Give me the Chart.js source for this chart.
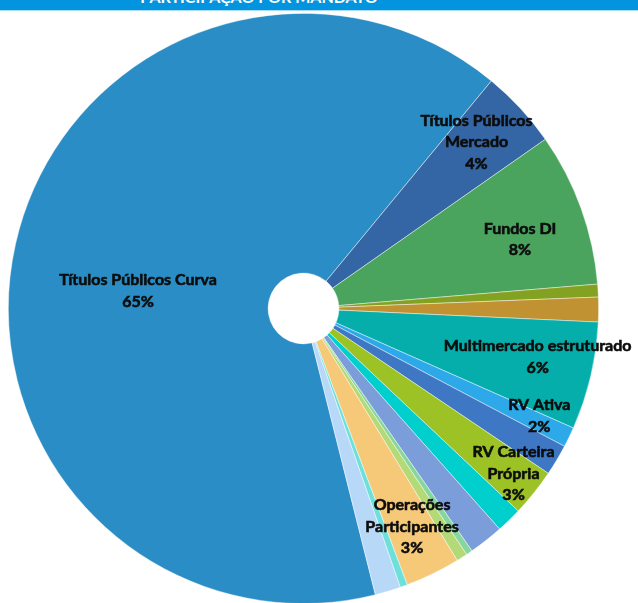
<!DOCTYPE html>
<html>
<head>
<meta charset="utf-8">
<script src="https://cdn.jsdelivr.net/npm/chart.js@4.4.0/dist/chart.umd.min.js"></script>
<style>
    html, body { margin: 0; padding: 0; background: #fff; overflow: hidden; width: 638px; height: 603px; }
    #faixa { position: absolute; left: 0; top: 0; width: 638px; height: 10px; background: #0394df; border-bottom: 1px solid #a9dcf6; overflow: hidden; z-index: 2; }
    #titulo { position: absolute; left: 0; width: 518px; top: -11px; text-align: center; color: #fff; font: bold 16px Lato, sans-serif; line-height: 16px; }
    #box { position: absolute; left: 0; top: 0; width: 638px; height: 616px; }
</style>
</head>
<body>
<div id="faixa"><div id="titulo">PARTICIPAÇÃO POR MANDATO</div></div>
<div id="box"><canvas id="chartMandato"></canvas></div>
<script>
// categorias (as sem rótulo no gráfico ficam sem nome)
var categorias = [
    ['Títulos Públicos Curva'],
    ['Títulos Públicos', 'Mercado'],
    ['Fundos DI'],
    [],
    [],
    ['Multimercado estruturado'],
    [],
    ['RV Ativa'],
    ['RV Carteira', 'Própria'],
    [],
    [],
    [],
    [],
    ['Operações', 'Participantes'],
    [],
    []
]
var participacao = [64.9, 4.3, 8.4, 0.7, 1.35, 5.9, 1.1, 1.7, 2.6, 1.4, 1.9, 0.35, 0.6, 3.0, 0.4, 1.4]
var cores = ['#2a8dc5', '#3465a4', '#4aa45e', '#84a222', '#c09232', '#05aeaa', '#2da9e9', '#3e78c5',
    '#9cc225', '#00cfcd', '#7b9dda', '#86d69e', '#b4d977', '#f6c978', '#6de0dc', '#b7d8f7']

// posição dos rótulos: fração do raio e desvio de ângulo (graus)
var posRotulos = [
    { f: 0.564, da: -6.6 }, { f: 0.814, da: -1.2 }, { f: 0.77, da: 2.2 }, null, null,
    { f: 0.81, da: -1.6 }, null, { f: 0.878, da: -6.4 }, { f: 0.905, da: -0.5 },
    null, null, null, null, { f: 0.825, da: -0.5 }, null, null
]

const rotulosPlugin = {
    id: 'rotulos',
    afterDatasetsDraw(chart) {
        const ctx = chart.ctx
        const meta = chart.getDatasetMeta(0)
        const total = participacao.reduce((a, b) => a + b, 0)
        ctx.save()
        ctx.font = 'bold 16px Lato, sans-serif'
        ctx.fillStyle = '#0d0d0d'
        ctx.strokeStyle = '#0d0d0d'
        ctx.lineWidth = 0.6
        ctx.textAlign = 'center'
        ctx.textBaseline = 'middle'
        meta.data.forEach((arc, i) => {
            if (!posRotulos[i] || categorias[i].length == 0) return
            const p = arc.getProps(['x', 'y', 'startAngle', 'endAngle', 'outerRadius'], true)
            const ang = (p.startAngle + p.endAngle) / 2 + posRotulos[i].da * Math.PI / 180
            const r = p.outerRadius * posRotulos[i].f
            const cx = p.x + r * Math.cos(ang)
            const cy = p.y + r * Math.sin(ang)
            const linhas = categorias[i].concat([Math.round(participacao[i] / total * 100) + '%'])
            const alt = 21.5
            linhas.forEach((txt, k) => {
                const ty = cy + (k - (linhas.length - 1) / 2) * alt
                ctx.fillText(txt, cx, ty)
                ctx.strokeText(txt, cx, ty)
            })
        })
        ctx.restore()
    }
}

new Chart(document.getElementById('chartMandato'), {
    type: 'doughnut',
    data: {
        labels: categorias.map(c => c.join(' ')),
        datasets: [{
            data: participacao,
            backgroundColor: cores,
            borderColor: 'rgba(255,255,255,0.55)',
            borderWidth: 0.8
        }]
    },
    options: {
        responsive: true,
        maintainAspectRatio: false,
        animation: false,
        rotation: 165.9,
        cutout: '12%',
        layout: { padding: { left: 8, top: 13, right: 39, bottom: 12 } },
        plugins: {
            legend: { display: false },
            tooltip: { enabled: false },
            title: { display: false }
        }
    },
    plugins: [rotulosPlugin]
})
</script>
</body>
</html>
